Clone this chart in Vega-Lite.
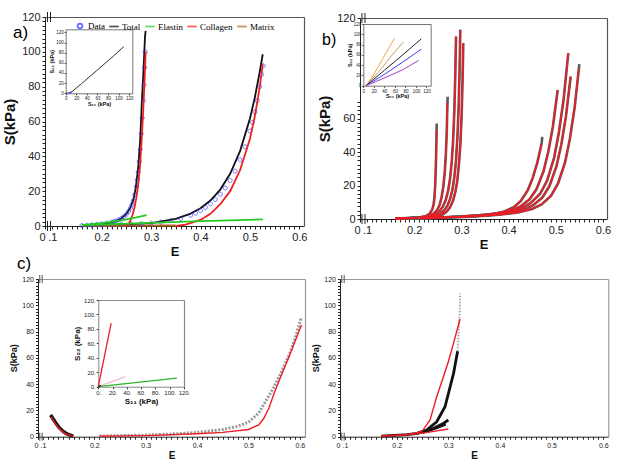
{
"$schema":"https://vega.github.io/schema/vega-lite/v6.json",
"width":621,"height":470,"autosize":{"type":"none"},"padding":0,"background":"white",
"config":{"view":{"stroke":null},"axis":{"grid":false,"labelFont":"Liberation Sans","titleFont":"Liberation Sans","domainColor":"#222","tickColor":"#222","labelColor":"#222","titleColor":"#111","labelOverlap":false,"labelFlush":false,"labelPadding":2}},
"datasets":{
"aLines":[
{"s":"Total","g":"L","E":0.16,"S":0.3},{"s":"Total","g":"L","E":0.18,"S":0.6},{"s":"Total","g":"L","E":0.2,"S":1.1},{"s":"Total","g":"L","E":0.22,"S":2.0},{"s":"Total","g":"L","E":0.23,"S":2.9},{"s":"Total","g":"L","E":0.24,"S":4.4},{"s":"Total","g":"L","E":0.25,"S":7.0},{"s":"Total","g":"L","E":0.258,"S":10.5},{"s":"Total","g":"L","E":0.264,"S":15},{"s":"Total","g":"L","E":0.269,"S":22},{"s":"Total","g":"L","E":0.274,"S":34},{"s":"Total","g":"L","E":0.278,"S":50},{"s":"Total","g":"L","E":0.281,"S":70},{"s":"Total","g":"L","E":0.284,"S":86},{"s":"Total","g":"L","E":0.2877,"S":109},{"s":"Total","g":"L","E":0.289,"S":112},
{"s":"Total","g":"R","E":0.16,"S":0.3},{"s":"Total","g":"R","E":0.2,"S":0.5},{"s":"Total","g":"R","E":0.25,"S":0.9},{"s":"Total","g":"R","E":0.3,"S":1.7},{"s":"Total","g":"R","E":0.35,"S":4.1},{"s":"Total","g":"R","E":0.38,"S":7.1},{"s":"Total","g":"R","E":0.4,"S":10.2},{"s":"Total","g":"R","E":0.42,"S":14.6},{"s":"Total","g":"R","E":0.44,"S":20.9},{"s":"Total","g":"R","E":0.46,"S":30},{"s":"Total","g":"R","E":0.48,"S":43},{"s":"Total","g":"R","E":0.5,"S":61.6},{"s":"Total","g":"R","E":0.51,"S":73.8},{"s":"Total","g":"R","E":0.52,"S":88.7},{"s":"Total","g":"R","E":0.526,"S":98.6},
{"s":"Collagen","g":"L","E":0.2506,"S":0},{"s":"Collagen","g":"L","E":0.254,"S":1},{"s":"Collagen","g":"L","E":0.258,"S":3},{"s":"Collagen","g":"L","E":0.262,"S":6},{"s":"Collagen","g":"L","E":0.266,"S":10},{"s":"Collagen","g":"L","E":0.27,"S":16},{"s":"Collagen","g":"L","E":0.274,"S":24},{"s":"Collagen","g":"L","E":0.278,"S":36},{"s":"Collagen","g":"L","E":0.281,"S":50},{"s":"Collagen","g":"L","E":0.284,"S":66},{"s":"Collagen","g":"L","E":0.2865,"S":82},{"s":"Collagen","g":"L","E":0.289,"S":100},
{"s":"Collagen","g":"R","E":0.35,"S":0},{"s":"Collagen","g":"R","E":0.37,"S":0.8},{"s":"Collagen","g":"R","E":0.4,"S":3.5},{"s":"Collagen","g":"R","E":0.42,"S":7},{"s":"Collagen","g":"R","E":0.44,"S":12.5},{"s":"Collagen","g":"R","E":0.46,"S":20},{"s":"Collagen","g":"R","E":0.48,"S":32},{"s":"Collagen","g":"R","E":0.5,"S":50},{"s":"Collagen","g":"R","E":0.51,"S":63},{"s":"Collagen","g":"R","E":0.52,"S":80},{"s":"Collagen","g":"R","E":0.526,"S":93},
{"s":"Elastin","g":"L","E":0.16,"S":0.5},{"s":"Elastin","g":"L","E":0.2,"S":1.6},{"s":"Elastin","g":"L","E":0.24,"S":3.2},{"s":"Elastin","g":"L","E":0.27,"S":4.9},{"s":"Elastin","g":"L","E":0.291,"S":6.3},
{"s":"Elastin","g":"R","E":0.16,"S":0.5},{"s":"Elastin","g":"R","E":0.3,"S":1.8},{"s":"Elastin","g":"R","E":0.4,"S":2.8},{"s":"Elastin","g":"R","E":0.526,"S":3.8},
{"s":"Matrix","g":"L","E":0.16,"S":0.2},{"s":"Matrix","g":"L","E":0.25,"S":0.3},
{"s":"Matrix","g":"R","E":0.16,"S":0.2},{"s":"Matrix","g":"R","E":0.35,"S":0.3}
],
"aData":[
{"s":"Data","E":0.16,"S":0.3},{"s":"Data","E":0.17,"S":0.45},{"s":"Data","E":0.18,"S":0.6},{"s":"Data","E":0.19,"S":0.85},{"s":"Data","E":0.2,"S":1.2},{"s":"Data","E":0.21,"S":1.6},{"s":"Data","E":0.22,"S":2.2},{"s":"Data","E":0.225,"S":2.6},{"s":"Data","E":0.23,"S":3.0},{"s":"Data","E":0.235,"S":3.6},{"s":"Data","E":0.24,"S":4.4},{"s":"Data","E":0.245,"S":5.5},{"s":"Data","E":0.25,"S":6.8},{"s":"Data","E":0.254,"S":8.3},{"s":"Data","E":0.258,"S":10.3},{"s":"Data","E":0.261,"S":12.2},{"s":"Data","E":0.264,"S":14.6},{"s":"Data","E":0.267,"S":18},{"s":"Data","E":0.27,"S":22.5},{"s":"Data","E":0.272,"S":26.5},{"s":"Data","E":0.274,"S":31},{"s":"Data","E":0.276,"S":37},{"s":"Data","E":0.278,"S":44},{"s":"Data","E":0.28,"S":53},{"s":"Data","E":0.282,"S":62},{"s":"Data","E":0.284,"S":72},{"s":"Data","E":0.2855,"S":81},{"s":"Data","E":0.287,"S":91},{"s":"Data","E":0.288,"S":100},
{"s":"Data","E":0.18,"S":0.4},{"s":"Data","E":0.2,"S":0.5},{"s":"Data","E":0.22,"S":0.6},{"s":"Data","E":0.24,"S":0.8},{"s":"Data","E":0.26,"S":1.0},{"s":"Data","E":0.28,"S":1.2},{"s":"Data","E":0.3,"S":1.6},{"s":"Data","E":0.32,"S":2.2},{"s":"Data","E":0.34,"S":3.1},{"s":"Data","E":0.36,"S":4.3},{"s":"Data","E":0.38,"S":6.2},{"s":"Data","E":0.39,"S":7.4},{"s":"Data","E":0.4,"S":8.9},{"s":"Data","E":0.41,"S":10.6},{"s":"Data","E":0.42,"S":12.7},{"s":"Data","E":0.43,"S":15.2},{"s":"Data","E":0.44,"S":18.2},{"s":"Data","E":0.45,"S":21.8},{"s":"Data","E":0.46,"S":26.2},{"s":"Data","E":0.47,"S":31.5},{"s":"Data","E":0.48,"S":38},{"s":"Data","E":0.49,"S":45.5},{"s":"Data","E":0.5,"S":54.5},{"s":"Data","E":0.505,"S":59.5},{"s":"Data","E":0.51,"S":65.5},{"s":"Data","E":0.515,"S":72},{"s":"Data","E":0.52,"S":80},{"s":"Data","E":0.524,"S":87},{"s":"Data","E":0.527,"S":92}
],
"aIn":[
{"s":"t","x":8,"y":0},{"s":"t","x":30,"y":19},{"s":"t","x":60,"y":46},{"s":"t","x":90,"y":73},{"s":"t","x":110,"y":92},
{"s":"b","x":0,"y":0},{"s":"b","x":6,"y":1},{"s":"b","x":12,"y":3},
{"s":"m","x":0,"y":0},{"s":"m","x":1,"y":3},{"s":"m","x":2,"y":6}
],
"b":[
{"g":"L1","E":0.16,"S":0.3},{"g":"L1","E":0.19,"S":0.5},{"g":"L1","E":0.21,"S":0.9},{"g":"L1","E":0.225,"S":1.8},{"g":"L1","E":0.233,"S":3.3},{"g":"L1","E":0.238,"S":5.5},{"g":"L1","E":0.241,"S":8.5},{"g":"L1","E":0.243,"S":13},{"g":"L1","E":0.2445,"S":20},{"g":"L1","E":0.2455,"S":28},{"g":"L1","E":0.2465,"S":38},{"g":"L1","E":0.2475,"S":53},{"g":"L1","E":0.2477,"S":57,"t":1},
{"g":"L2","E":0.16,"S":0.3},{"g":"L2","E":0.19,"S":0.5},{"g":"L2","E":0.215,"S":0.9},{"g":"L2","E":0.232,"S":1.8},{"g":"L2","E":0.242,"S":3.3},{"g":"L2","E":0.249,"S":5.5},{"g":"L2","E":0.254,"S":8.5},{"g":"L2","E":0.258,"S":13},{"g":"L2","E":0.2615,"S":19},{"g":"L2","E":0.2645,"S":27},{"g":"L2","E":0.267,"S":38},{"g":"L2","E":0.269,"S":52},{"g":"L2","E":0.2705,"S":70},{"g":"L2","E":0.271,"S":73,"t":1},
{"g":"L3","E":0.16,"S":0.3},{"g":"L3","E":0.185,"S":0.5},{"g":"L3","E":0.21,"S":0.8},{"g":"L3","E":0.232,"S":1.5},{"g":"L3","E":0.245,"S":2.8},{"g":"L3","E":0.254,"S":4.8},{"g":"L3","E":0.261,"S":7.5},{"g":"L3","E":0.267,"S":11.5},{"g":"L3","E":0.272,"S":17},{"g":"L3","E":0.276,"S":24},{"g":"L3","E":0.2795,"S":34},{"g":"L3","E":0.2825,"S":47},{"g":"L3","E":0.285,"S":64},{"g":"L3","E":0.287,"S":85},{"g":"L3","E":0.2886,"S":109},
{"g":"L4","E":0.16,"S":0.3},{"g":"L4","E":0.19,"S":0.45},{"g":"L4","E":0.22,"S":0.8},{"g":"L4","E":0.2411,"S":1.6},{"g":"L4","E":0.2541,"S":2.9},{"g":"L4","E":0.2631,"S":5},{"g":"L4","E":0.2701,"S":7.8},{"g":"L4","E":0.2761,"S":12},{"g":"L4","E":0.2811,"S":17.6},{"g":"L4","E":0.2851,"S":25},{"g":"L4","E":0.2886,"S":35},{"g":"L4","E":0.2916,"S":49},{"g":"L4","E":0.2941,"S":66},{"g":"L4","E":0.2961,"S":88},{"g":"L4","E":0.2977,"S":113},
{"g":"L5","E":0.16,"S":0.3},{"g":"L5","E":0.19,"S":0.45},{"g":"L5","E":0.225,"S":0.8},{"g":"L5","E":0.2474,"S":1.5},{"g":"L5","E":0.2604,"S":2.7},{"g":"L5","E":0.2694,"S":4.6},{"g":"L5","E":0.2764,"S":7.2},{"g":"L5","E":0.2824,"S":11},{"g":"L5","E":0.2874,"S":16.4},{"g":"L5","E":0.2914,"S":23},{"g":"L5","E":0.2949,"S":33},{"g":"L5","E":0.2979,"S":45},{"g":"L5","E":0.3004,"S":61},{"g":"L5","E":0.3024,"S":82},{"g":"L5","E":0.304,"S":105},
{"g":"R1","E":0.16,"S":0.3},{"g":"R1","E":0.2,"S":0.5},{"g":"R1","E":0.25,"S":0.8},{"g":"R1","E":0.301,"S":1.3},{"g":"R1","E":0.341,"S":2.0},{"g":"R1","E":0.371,"S":3.1},{"g":"R1","E":0.391,"S":4.5},{"g":"R1","E":0.411,"S":7.1},{"g":"R1","E":0.426,"S":10.8},{"g":"R1","E":0.441,"S":17.4},{"g":"R1","E":0.451,"S":24.4},{"g":"R1","E":0.461,"S":33.8},{"g":"R1","E":0.47,"S":45},{"g":"R1","E":0.4714,"S":49,"t":1},
{"g":"R2","E":0.16,"S":0.3},{"g":"R2","E":0.22,"S":0.6},{"g":"R2","E":0.28,"S":1.2},{"g":"R2","E":0.334,"S":2.1},{"g":"R2","E":0.374,"S":3.2},{"g":"R2","E":0.404,"S":5.0},{"g":"R2","E":0.424,"S":7.3},{"g":"R2","E":0.444,"S":11.6},{"g":"R2","E":0.459,"S":17.7},{"g":"R2","E":0.474,"S":28.5},{"g":"R2","E":0.484,"S":40},{"g":"R2","E":0.494,"S":55.4},{"g":"R2","E":0.504,"S":77},
{"g":"R3","E":0.16,"S":0.3},{"g":"R3","E":0.23,"S":0.7},{"g":"R3","E":0.3,"S":1.5},{"g":"R3","E":0.3565,"S":2.7},{"g":"R3","E":0.3965,"S":4.2},{"g":"R3","E":0.4265,"S":6.4},{"g":"R3","E":0.4465,"S":9.4},{"g":"R3","E":0.4665,"S":14.9},{"g":"R3","E":0.4815,"S":22.8},{"g":"R3","E":0.4965,"S":36.6},{"g":"R3","E":0.5065,"S":51.5},{"g":"R3","E":0.5165,"S":71.3},{"g":"R3","E":0.5265,"S":99},
{"g":"R4","E":0.16,"S":0.3},{"g":"R4","E":0.23,"S":0.6},{"g":"R4","E":0.3,"S":1.3},{"g":"R4","E":0.3615,"S":2.3},{"g":"R4","E":0.4015,"S":3.6},{"g":"R4","E":0.4315,"S":5.5},{"g":"R4","E":0.4515,"S":8.1},{"g":"R4","E":0.4715,"S":12.8},{"g":"R4","E":0.4865,"S":19.6},{"g":"R4","E":0.5015,"S":31.5},{"g":"R4","E":0.5115,"S":44.2},{"g":"R4","E":0.5215,"S":61.2},{"g":"R4","E":0.5315,"S":85},
{"g":"R5","E":0.16,"S":0.3},{"g":"R5","E":0.24,"S":0.6},{"g":"R5","E":0.32,"S":1.4},{"g":"R5","E":0.3798,"S":2.5},{"g":"R5","E":0.4198,"S":3.9},{"g":"R5","E":0.4498,"S":6.0},{"g":"R5","E":0.4698,"S":8.7},{"g":"R5","E":0.4898,"S":13.8},{"g":"R5","E":0.5048,"S":21.2},{"g":"R5","E":0.5198,"S":34},{"g":"R5","E":0.5298,"S":47.8},{"g":"R5","E":0.5398,"S":66.2},{"g":"R5","E":0.549,"S":90},{"g":"R5","E":0.5498,"S":92.5,"t":1}
],
"bIn":[
{"c":"o","x":5,"y":0},{"c":"o","x":20,"y":22},{"c":"o","x":40,"y":58},{"c":"o","x":59,"y":92},
{"c":"n","x":5,"y":0},{"c":"n","x":30,"y":28},{"c":"n","x":55,"y":60},{"c":"n","x":76,"y":85},
{"c":"k","x":5,"y":0},{"c":"k","x":40,"y":30},{"c":"k","x":75,"y":60},{"c":"k","x":110,"y":91},
{"c":"b","x":5,"y":0},{"c":"b","x":40,"y":22},{"c":"b","x":75,"y":46},{"c":"b","x":110,"y":71},
{"c":"p","x":5,"y":0},{"c":"p","x":40,"y":15},{"c":"p","x":75,"y":31},{"c":"p","x":105,"y":49}
],
"c":[
{"k":"dL","E":0.115,"S":16.5},{"k":"dL","E":0.119,"S":14},{"k":"dL","E":0.1235,"S":11.4},{"k":"dL","E":0.128,"S":8.8},{"k":"dL","E":0.133,"S":6.4},{"k":"dL","E":0.139,"S":4.2},{"k":"dL","E":0.145,"S":2.5},{"k":"dL","E":0.15,"S":1.6},{"k":"dL","E":0.155,"S":1},{"k":"dL","E":0.159,"S":0.5},
{"k":"fL","E":0.116,"S":15},{"k":"fL","E":0.12,"S":12.5},{"k":"fL","E":0.125,"S":9.5},{"k":"fL","E":0.13,"S":7},{"k":"fL","E":0.135,"S":5},{"k":"fL","E":0.14,"S":3.3},{"k":"fL","E":0.145,"S":2.2},{"k":"fL","E":0.15,"S":1.3},{"k":"fL","E":0.155,"S":0.8},{"k":"fL","E":0.16,"S":0.5},
{"k":"dR","E":0.21,"S":0.5},{"k":"dR","E":0.25,"S":0.8},{"k":"dR","E":0.3,"S":1.2},{"k":"dR","E":0.35,"S":2},{"k":"dR","E":0.4,"S":3.2},{"k":"dR","E":0.45,"S":5.5},{"k":"dR","E":0.48,"S":8},{"k":"dR","E":0.5,"S":11},{"k":"dR","E":0.52,"S":18},{"k":"dR","E":0.535,"S":28},{"k":"dR","E":0.55,"S":38},{"k":"dR","E":0.565,"S":50},{"k":"dR","E":0.58,"S":63},{"k":"dR","E":0.59,"S":74},{"k":"dR","E":0.6,"S":87},{"k":"dR","E":0.603,"S":91},
{"k":"fR","E":0.21,"S":0.3},{"k":"fR","E":0.3,"S":0.8},{"k":"fR","E":0.4,"S":2.2},{"k":"fR","E":0.45,"S":3.3},{"k":"fR","E":0.5,"S":5.5},{"k":"fR","E":0.52,"S":9},{"k":"fR","E":0.53,"S":14},{"k":"fR","E":0.54,"S":22},{"k":"fR","E":0.55,"S":33},{"k":"fR","E":0.56,"S":43},{"k":"fR","E":0.58,"S":62},{"k":"fR","E":0.6,"S":82},{"k":"fR","E":0.603,"S":85}
],
"cIn":[
{"c":"p","x":0,"y":0},{"c":"p","x":38,"y":14},
{"c":"g","x":0,"y":0},{"c":"g","x":110,"y":12},
{"c":"r","x":0,"y":0},{"c":"r","x":18,"y":88},
{"c":"k","x":0,"y":0},{"c":"k","x":4,"y":1.5}
],
"d":[
{"k":"f","g":"m","E":0.17,"S":0.5},{"k":"f","g":"m","E":0.2,"S":1},{"k":"f","g":"m","E":0.22,"S":1.6},{"k":"f","g":"m","E":0.24,"S":3},{"k":"f","g":"m","E":0.25,"S":4.5},{"k":"f","g":"m","E":0.2646,"S":12.7},{"k":"f","g":"m","E":0.2775,"S":30.4},{"k":"f","g":"m","E":0.29,"S":45},{"k":"f","g":"m","E":0.3,"S":57},{"k":"f","g":"m","E":0.31,"S":71},{"k":"f","g":"m","E":0.3227,"S":89.6},
{"k":"f","g":"s","E":0.17,"S":0.5},{"k":"f","g":"s","E":0.22,"S":1.5},{"k":"f","g":"s","E":0.26,"S":3.3},{"k":"f","g":"s","E":0.3,"S":5.9},
{"k":"d","g":"m","E":0.17,"S":0.5},{"k":"d","g":"m","E":0.22,"S":1.5},{"k":"d","g":"m","E":0.24,"S":2.5},{"k":"d","g":"m","E":0.258,"S":5},{"k":"d","g":"m","E":0.2775,"S":11.4},{"k":"d","g":"m","E":0.2936,"S":22.8},{"k":"d","g":"m","E":0.31,"S":48},{"k":"d","g":"m","E":0.318,"S":65},
{"k":"d","g":"a","E":0.24,"S":2.5},{"k":"d","g":"a","E":0.27,"S":6},{"k":"d","g":"a","E":0.29,"S":10},{"k":"d","g":"a","E":0.3,"S":12.7},
{"k":"d","g":"b","E":0.25,"S":3},{"k":"d","g":"b","E":0.275,"S":6.5},{"k":"d","g":"b","E":0.295,"S":9.5},
{"k":"tip","g":"t","E":0.318,"S":65},{"k":"tip","g":"t","E":0.32,"S":80},{"k":"tip","g":"t","E":0.322,"S":95},{"k":"tip","g":"t","E":0.323,"S":109}
]
},
"resolve":{"scale":{"x":"independent","y":"independent","color":"independent","shape":"independent"}},
"layer":[
{"data":{"name":"aLines"},"transform":[{"filter":"datum.s === 'Total' || datum.s === 'Matrix'"}],"mark":{"type":"line","strokeWidth":1.8},
 "encoding":{
 "x":{"field":"E","type":"quantitative","scale":{"domain":[0.0852,0.6095],"range":[45,304],"nice":false,"zero":false},
  "axis":{"orient":"bottom","offset":-244,"values":[0.0852,0.1,0.11,0.12,0.13,0.14,0.15,0.16,0.17,0.18,0.19,0.2,0.21,0.22,0.23,0.24,0.25,0.26,0.27,0.28,0.29,0.3,0.31,0.32,0.33,0.34,0.35,0.36,0.37,0.38,0.39,0.4,0.41,0.42,0.43,0.44,0.45,0.46,0.47,0.48,0.49,0.5,0.51,0.52,0.53,0.54,0.55,0.56,0.57,0.58,0.59,0.6],
  "labelExpr":"datum.value < 0.095 ? '0' : (abs(datum.value*10 - round(datum.value*10)) < 0.01 ? (datum.value < 0.15 ? '.1' : format(datum.value, '.1f')) : '')",
  "labelAlign":{"condition":{"test":"datum.value < 0.095","value":"right"},"value":"center"},
  "tickSize":3,"labelFontSize":11,"title":"E","titleFontSize":13,"titleFontWeight":"bold","titlePadding":3}},
 "y":{"field":"S","type":"quantitative","scale":{"domain":[0,120],"range":[226,17],"nice":false,"zero":false},
  "axis":{"orient":"left","offset":-45,"values":[0,2.5,5,7.5,10,12.5,15,17.5,20,22.5,25,27.5,30,32.5,35,37.5,40,42.5,45,47.5,50,52.5,55,57.5,60,62.5,65,67.5,70,72.5,75,77.5,80,82.5,85,87.5,90,92.5,95,97.5,100,102.5,105,107.5,110,112.5,115,117.5,120],
  "labelExpr":"datum.value % 20 === 0 ? datum.label : ''","tickSize":3,"labelFontSize":11,"title":"S(kPa)","titleFontSize":15,"titleFontWeight":"bold","titlePadding":4}},
 "color":{"field":"s","type":"nominal","scale":{"domain":["Data","Total","Elastin","Collagen","Matrix"],"range":["#3030ff","#111111","#22cc22","#ee2020","#b8651a"]},"legend":null},
 "detail":{"field":"g"}}},
{"data":{"name":"aData"},"mark":{"type":"point","filled":false,"strokeWidth":1,"size":64},
 "encoding":{
 "x":{"field":"E","type":"quantitative","scale":{"domain":[0.0852,0.6095],"range":[45,304],"nice":false,"zero":false},
  "axis":{"orient":"top","offset":-17,"ticks":false,"labels":false,"title":null,"domainColor":"#555","domainWidth":1.2}},
 "y":{"field":"S","type":"quantitative","scale":{"domain":[0,120],"range":[226,17],"nice":false,"zero":false},
  "axis":{"orient":"right","offset":-317,"ticks":false,"labels":false,"title":null,"domainColor":"#555","domainWidth":1.2}},
 "color":{"field":"s","type":"nominal","scale":{"domain":["Data","Total","Elastin","Collagen","Matrix"],"range":["#3030ff","#111111","#22cc22","#ee2020","#b8651a"]},
  "legend":{"orient":"none","legendX":74,"legendY":20,"direction":"horizontal","columns":5,"title":null,"labelFont":"Liberation Serif","labelFontSize":9,"symbolSize":90,"symbolStrokeWidth":1.8,"columnPadding":0,"labelOffset":2}},
 "shape":{"field":"s","type":"nominal","scale":{"domain":["Data","Total","Elastin","Collagen","Matrix"],"range":["M0.5,0A0.5,0.5,0,1,1,-0.5,0A0.5,0.5,0,1,1,0.5,0Z","stroke","stroke","stroke","stroke"]},
  "legend":{"orient":"none","legendX":74,"legendY":20,"direction":"horizontal","columns":5,"title":null,"labelFont":"Liberation Serif","labelFontSize":9,"symbolSize":90,"symbolStrokeWidth":1.8,"columnPadding":0,"labelOffset":2}}}},
{"data":{"name":"aLines"},"transform":[{"filter":"datum.s === 'Collagen' || datum.s === 'Elastin'"}],"mark":{"type":"line","strokeWidth":1.8},
 "encoding":{
 "x":{"field":"E","type":"quantitative","scale":{"domain":[0.0852,0.6095],"range":[45,304],"nice":false,"zero":false},"axis":null},
 "y":{"field":"S","type":"quantitative","scale":{"domain":[0,120],"range":[226,17],"nice":false,"zero":false},"axis":null},
 "color":{"field":"s","type":"nominal","scale":{"domain":["Data","Total","Elastin","Collagen","Matrix"],"range":["#3030ff","#111111","#22cc22","#ee2020","#b8651a"]},"legend":null},
 "detail":{"field":"g"}}},
{"data":{"values":[{}]},"mark":{"type":"text","fontSize":17,"align":"left","baseline":"middle","font":"Liberation Sans"},
 "encoding":{
 "x":{"datum":0.0204,"type":"quantitative","scale":{"domain":[0.0852,0.6095],"range":[45,304],"nice":false,"zero":false},"axis":null},
 "y":{"datum":110.8,"type":"quantitative","scale":{"domain":[0,120],"range":[226,17],"nice":false,"zero":false},"axis":null},
 "text":{"value":"a)"}}},
{"data":{"values":[{}]},"mark":{"type":"point","shape":"M-0.3,-1L-0.3,1M0.3,-1L0.3,1","filled":false,"stroke":"#222","strokeWidth":1,"size":100,"opacity":1},
 "encoding":{
 "x":{"datum":0.0933,"type":"quantitative","scale":{"domain":[0.0852,0.6095],"range":[45,304],"nice":false,"zero":false},"axis":null},
 "y":{"datum":0,"type":"quantitative","scale":{"domain":[0,120],"range":[226,17],"nice":false,"zero":false},"axis":null}}},
{"data":{"values":[{}]},"mark":{"type":"point","shape":"M-0.3,-1L-0.3,1M0.3,-1L0.3,1","filled":false,"stroke":"#222","strokeWidth":1,"size":100,"opacity":1},
 "encoding":{
 "x":{"datum":0.0933,"type":"quantitative","scale":{"domain":[0.0852,0.6095],"range":[45,304],"nice":false,"zero":false},"axis":null},
 "y":{"datum":120,"type":"quantitative","scale":{"domain":[0,120],"range":[226,17],"nice":false,"zero":false},"axis":null}}},

{"data":{"name":"aIn"},"mark":{"type":"line","strokeWidth":1},
 "encoding":{
 "x":{"field":"x","type":"quantitative","scale":{"domain":[0,126],"range":[65.7,132.3],"nice":false,"zero":false},
  "axis":{"orient":"bottom","offset":-376.7,"values":[0,20,40,60,80,100,120],"labelFontSize":4.5,"tickSize":1.5,"labelPadding":1,"title":"S₁₁ (kPa)","titleFontSize":5.5,"titleFontWeight":"bold","titlePadding":1,"domainColor":"#777"}},
 "y":{"field":"y","type":"quantitative","scale":{"domain":[0,126],"range":[93.3,29.3],"nice":false,"zero":false},
  "axis":{"orient":"left","offset":-65.7,"values":[0,20,40,60,80,100,120],"labelFontSize":4.5,"tickSize":1.5,"labelPadding":1,"title":"S₂₂ (kPa)","titleFontSize":5.5,"titleFontWeight":"bold","titlePadding":1,"domainColor":"#777"}},
 "color":{"field":"s","type":"nominal","scale":{"domain":["t","b","m"],"range":["#333333","#3030ff","#d4a017"]},"legend":null},
 "detail":{"field":"s"}}},
{"data":{"name":"aIn"},"mark":{"type":"line","opacity":0},
 "encoding":{
 "x":{"field":"x","type":"quantitative","scale":{"domain":[0,126],"range":[65.7,132.3],"nice":false,"zero":false},
  "axis":{"orient":"top","offset":-29.3,"ticks":false,"labels":false,"title":null,"domainColor":"#777"}},
 "y":{"field":"y","type":"quantitative","scale":{"domain":[0,126],"range":[93.3,29.3],"nice":false,"zero":false},
  "axis":{"orient":"right","offset":-488.7,"ticks":false,"labels":false,"title":null,"domainColor":"#777"}},
 "detail":{"field":"s"}}},

{"data":{"name":"b"},"mark":{"type":"line","strokeWidth":2.6,"color":"#5a5a5a"},
 "encoding":{
 "x":{"field":"E","type":"quantitative","scale":{"domain":[0.0852,0.6085],"range":[360,607],"nice":false,"zero":false},
  "axis":{"orient":"bottom","offset":-251,"values":[0.0852,0.1,0.11,0.12,0.13,0.14,0.15,0.16,0.17,0.18,0.19,0.2,0.21,0.22,0.23,0.24,0.25,0.26,0.27,0.28,0.29,0.3,0.31,0.32,0.33,0.34,0.35,0.36,0.37,0.38,0.39,0.4,0.41,0.42,0.43,0.44,0.45,0.46,0.47,0.48,0.49,0.5,0.51,0.52,0.53,0.54,0.55,0.56,0.57,0.58,0.59,0.6],
  "labelExpr":"datum.value < 0.095 ? '0' : (abs(datum.value*10 - round(datum.value*10)) < 0.01 ? (datum.value < 0.15 ? '.1' : format(datum.value, '.1f')) : '')",
  "labelAlign":{"condition":{"test":"datum.value < 0.095","value":"right"},"value":"center"},
  "tickSize":3,"labelFontSize":11,"title":"E","titleFontSize":13,"titleFontWeight":"bold","titlePadding":3}},
 "y":{"field":"S","type":"quantitative","scale":{"domain":[0,120],"range":[219,18],"nice":false,"zero":false},
  "axis":{"orient":"left","offset":-360,"values":[0,2.5,5,7.5,10,12.5,15,17.5,20,22.5,25,27.5,30,32.5,35,37.5,40,42.5,45,47.5,50,52.5,55,57.5,60,62.5,65,67.5,70,120],
  "labelExpr":"datum.value % 20 === 0 ? datum.label : ''","tickSize":3,"labelFontSize":11,"title":"S(kPa)","titleFontSize":15,"titleFontWeight":"bold","titlePadding":4}},
 "detail":{"field":"g"}}},
{"data":{"name":"b"},"transform":[{"filter":"datum.t !== 1"}],"mark":{"type":"line","strokeWidth":1.6,"color":"#ee1c24"},
 "encoding":{
 "x":{"field":"E","type":"quantitative","scale":{"domain":[0.0852,0.6085],"range":[360,607],"nice":false,"zero":false},
  "axis":{"orient":"top","offset":-18,"ticks":false,"labels":false,"title":null,"domainColor":"#555","domainWidth":1.2}},
 "y":{"field":"S","type":"quantitative","scale":{"domain":[0,120],"range":[219,18],"nice":false,"zero":false},
  "axis":{"orient":"right","offset":-14,"ticks":false,"labels":false,"title":null,"domainColor":"#555","domainWidth":1.2}},
 "detail":{"field":"g"}}},
{"data":{"values":[{}]},"mark":{"type":"text","fontSize":16,"align":"left","baseline":"middle","font":"Liberation Sans"},
 "encoding":{
 "x":{"datum":0.0047,"type":"quantitative","scale":{"domain":[0.0852,0.6085],"range":[360,607],"nice":false,"zero":false},"axis":null},
 "y":{"datum":106.9,"type":"quantitative","scale":{"domain":[0,120],"range":[219,18],"nice":false,"zero":false},"axis":null},
 "text":{"value":"b)"}}},
{"data":{"values":[{}]},"mark":{"type":"point","shape":"M-0.3,-1L-0.3,1M0.3,-1L0.3,1","filled":false,"stroke":"#222","strokeWidth":1,"size":100,"opacity":1},
 "encoding":{
 "x":{"datum":0.0926,"type":"quantitative","scale":{"domain":[0.0852,0.6085],"range":[360,607],"nice":false,"zero":false},"axis":null},
 "y":{"datum":0,"type":"quantitative","scale":{"domain":[0,120],"range":[219,18],"nice":false,"zero":false},"axis":null}}},
{"data":{"values":[{}]},"mark":{"type":"point","shape":"M-0.3,-1L-0.3,1M0.3,-1L0.3,1","filled":false,"stroke":"#222","strokeWidth":1,"size":100,"opacity":1},
 "encoding":{
 "x":{"datum":0.0926,"type":"quantitative","scale":{"domain":[0.0852,0.6085],"range":[360,607],"nice":false,"zero":false},"axis":null},
 "y":{"datum":120,"type":"quantitative","scale":{"domain":[0,120],"range":[219,18],"nice":false,"zero":false},"axis":null}}},

{"data":{"name":"bIn"},"mark":{"type":"line","strokeWidth":1},
 "encoding":{
 "x":{"field":"x","type":"quantitative","scale":{"domain":[0,128],"range":[363.3,430.7],"nice":false,"zero":false},
  "axis":{"orient":"bottom","offset":-384.3,"values":[0,20,40,60,80,100,120],"labelFontSize":4.5,"tickSize":1.5,"labelPadding":1,"title":"S₁₁ (kPa)","titleFontSize":5.5,"titleFontWeight":"bold","titlePadding":1,"domainColor":"#777"}},
 "y":{"field":"y","type":"quantitative","scale":{"domain":[0,120],"range":[85.7,24],"nice":false,"zero":false},
  "axis":{"orient":"left","offset":-363.3,"values":[0,20,40,60,80,100,120],"labelFontSize":4.5,"tickSize":1.5,"labelPadding":1,"title":"S₂₂ (kPa)","titleFontSize":5.5,"titleFontWeight":"bold","titlePadding":1,"domainColor":"#777"}},
 "color":{"field":"c","type":"nominal","scale":{"domain":["o","n","k","b","p"],"range":["#f5a742","#c89a6a","#222222","#3d3df0","#a040c8"]},"legend":null},
 "detail":{"field":"c"}}},
{"data":{"name":"bIn"},"mark":{"type":"line","opacity":0},
 "encoding":{
 "x":{"field":"x","type":"quantitative","scale":{"domain":[0,128],"range":[363.3,430.7],"nice":false,"zero":false},
  "axis":{"orient":"top","offset":-24,"ticks":false,"labels":false,"title":null,"domainColor":"#777"}},
 "y":{"field":"y","type":"quantitative","scale":{"domain":[0,120],"range":[85.7,24],"nice":false,"zero":false},
  "axis":{"orient":"right","offset":-190.3,"ticks":false,"labels":false,"title":null,"domainColor":"#777"}},
 "detail":{"field":"c"}}},

{"data":{"name":"c"},"transform":[{"filter":"datum.k === 'dL'"}],"mark":{"type":"line","strokeWidth":3.5,"color":"#111"},
 "encoding":{
 "x":{"field":"E","type":"quantitative","scale":{"domain":[0.0905,0.61],"range":[38,305],"nice":false,"zero":false},
  "axis":{"orient":"bottom","offset":-33.3,"values":[0.0905,0.1,0.11,0.12,0.13,0.14,0.15,0.16,0.17,0.18,0.19,0.2,0.21,0.22,0.23,0.24,0.25,0.26,0.27,0.28,0.29,0.3,0.31,0.32,0.33,0.34,0.35,0.36,0.37,0.38,0.39,0.4,0.41,0.42,0.43,0.44,0.45,0.46,0.47,0.48,0.49,0.5,0.51,0.52,0.53,0.54,0.55,0.56,0.57,0.58,0.59,0.6],
  "labelExpr":"datum.value < 0.095 ? '0' : (abs(datum.value*10 - round(datum.value*10)) < 0.01 ? (datum.value < 0.15 ? '.1' : format(datum.value, '.1f')) : '')",
  "labelAlign":{"condition":{"test":"datum.value < 0.095","value":"right"},"value":"center"},
  "tickSize":2.5,"labelFontSize":7,"title":"E","titleFontSize":10,"titleFontWeight":"bold","titlePadding":2}},
 "y":{"field":"S","type":"quantitative","scale":{"domain":[0,120],"range":[436.7,279],"nice":false,"zero":false},
  "axis":{"orient":"left","offset":-38,"values":[0,2.5,5,7.5,10,12.5,15,17.5,20,22.5,25,27.5,30,32.5,35,37.5,40,42.5,45,47.5,50,52.5,55,57.5,60,62.5,65,67.5,70,72.5,75,77.5,80,82.5,85,87.5,90,92.5,95,97.5,100,102.5,105,107.5,110,112.5,115,117.5,120],
  "labelExpr":"datum.value % 20 === 0 ? datum.label : ''","tickSize":2.5,"labelFontSize":7,"title":"S(kPa)","titleFontSize":9,"titleFontWeight":"bold","titlePadding":3}}}},
{"data":{"name":"c"},"transform":[{"filter":"datum.k === 'dR'"}],"mark":{"type":"line","strokeWidth":3,"color":"#999","strokeDash":[2,1.5]},
 "encoding":{
 "x":{"field":"E","type":"quantitative","scale":{"domain":[0.0905,0.61],"range":[38,305],"nice":false,"zero":false},
  "axis":{"orient":"top","offset":-279,"ticks":false,"labels":false,"title":null,"domainColor":"#999","domainWidth":1.2}},
 "y":{"field":"S","type":"quantitative","scale":{"domain":[0,120],"range":[436.7,279],"nice":false,"zero":false},
  "axis":{"orient":"right","offset":-316,"ticks":false,"labels":false,"title":null,"domainColor":"#999","domainWidth":1.2}}}},
{"data":{"name":"c"},"transform":[{"filter":"datum.k === 'fL' || datum.k === 'fR'"}],"mark":{"type":"line","strokeWidth":1.4,"color":"#ee1c24"},
 "encoding":{
 "x":{"field":"E","type":"quantitative","scale":{"domain":[0.0905,0.61],"range":[38,305],"nice":false,"zero":false},"axis":null},
 "y":{"field":"S","type":"quantitative","scale":{"domain":[0,120],"range":[436.7,279],"nice":false,"zero":false},"axis":null},
 "detail":{"field":"k"}}},
{"data":{"values":[{}]},"mark":{"type":"text","fontSize":17,"align":"left","baseline":"middle","font":"Liberation Sans"},
 "encoding":{
 "x":{"datum":0.0496,"type":"quantitative","scale":{"domain":[0.0905,0.61],"range":[38,305],"nice":false,"zero":false},"axis":null},
 "y":{"datum":131.4,"type":"quantitative","scale":{"domain":[0,120],"range":[436.7,279],"nice":false,"zero":false},"axis":null},
 "text":{"value":"c)"}}},
{"data":{"values":[{}]},"mark":{"type":"point","shape":"M-0.3,-1L-0.3,1M0.3,-1L0.3,1","filled":false,"stroke":"#555","strokeWidth":1,"size":64,"opacity":1},
 "encoding":{
 "x":{"datum":0.0963,"type":"quantitative","scale":{"domain":[0.0905,0.61],"range":[38,305],"nice":false,"zero":false},"axis":null},
 "y":{"datum":0,"type":"quantitative","scale":{"domain":[0,120],"range":[436.7,279],"nice":false,"zero":false},"axis":null}}},
{"data":{"values":[{}]},"mark":{"type":"point","shape":"M-0.3,-1L-0.3,1M0.3,-1L0.3,1","filled":false,"stroke":"#555","strokeWidth":1,"size":64,"opacity":1},
 "encoding":{
 "x":{"datum":0.0963,"type":"quantitative","scale":{"domain":[0.0905,0.61],"range":[38,305],"nice":false,"zero":false},"axis":null},
 "y":{"datum":120,"type":"quantitative","scale":{"domain":[0,120],"range":[436.7,279],"nice":false,"zero":false},"axis":null}}},

{"data":{"name":"cIn"},"mark":{"type":"line","strokeWidth":1.3},
 "encoding":{
 "x":{"field":"x","type":"quantitative","scale":{"domain":[0,120],"range":[98.3,184],"nice":false,"zero":false},
  "axis":{"orient":"bottom","offset":-83.3,"values":[0,20,40,60,80,100,120],"labelExpr":"datum.label + '.'","labelFontSize":6,"tickSize":2,"labelPadding":1,"title":"S₁₁ (kPa)","titleFontSize":8,"titleFontWeight":"bold","titlePadding":2,"domainColor":"#888"}},
 "y":{"field":"y","type":"quantitative","scale":{"domain":[0,120],"range":[386.7,300],"nice":false,"zero":false},
  "axis":{"orient":"left","offset":-98.3,"values":[0,20,40,60,80,100,120],"labelExpr":"datum.label + '.'","labelFontSize":6,"tickSize":2,"labelPadding":1,"title":"S₂₂ (kPa)","titleFontSize":8,"titleFontWeight":"bold","titlePadding":2,"domainColor":"#888"}},
 "color":{"field":"c","type":"nominal","scale":{"domain":["r","g","p","k"],"range":["#e8202a","#2ab52a","#f2b8d8","#222222"]},"legend":null},
 "detail":{"field":"c"}}},
{"data":{"name":"cIn"},"mark":{"type":"line","opacity":0},
 "encoding":{
 "x":{"field":"x","type":"quantitative","scale":{"domain":[0,120],"range":[98.3,184],"nice":false,"zero":false},
  "axis":{"orient":"top","offset":-300,"ticks":false,"labels":false,"title":null,"domainColor":"#888","domainWidth":1.2}},
 "y":{"field":"y","type":"quantitative","scale":{"domain":[0,120],"range":[386.7,300],"nice":false,"zero":false},
  "axis":{"orient":"right","offset":-437,"ticks":false,"labels":false,"title":null,"domainColor":"#888","domainWidth":1.2}},
 "detail":{"field":"c"}}},

{"data":{"name":"d"},"transform":[{"filter":"datum.k === 'tip'"}],"mark":{"type":"line","strokeWidth":2,"color":"#aaa","strokeDash":[1.5,1.5]},
 "encoding":{
 "x":{"field":"E","type":"quantitative","scale":{"domain":[0.0903,0.6097],"range":[340,608.3],"nice":false,"zero":false},"axis":null},
 "y":{"field":"S","type":"quantitative","scale":{"domain":[0,120],"range":[436.7,279],"nice":false,"zero":false},"axis":null}}},
{"data":{"name":"d"},"transform":[{"filter":"datum.k === 'd'"}],"mark":{"type":"line","strokeWidth":2.8,"color":"#111"},
 "encoding":{
 "x":{"field":"E","type":"quantitative","scale":{"domain":[0.0903,0.6097],"range":[340,608.3],"nice":false,"zero":false},
  "axis":{"orient":"bottom","offset":-33.3,"values":[0.0903,0.1,0.11,0.12,0.13,0.14,0.15,0.16,0.17,0.18,0.19,0.2,0.21,0.22,0.23,0.24,0.25,0.26,0.27,0.28,0.29,0.3,0.31,0.32,0.33,0.34,0.35,0.36,0.37,0.38,0.39,0.4,0.41,0.42,0.43,0.44,0.45,0.46,0.47,0.48,0.49,0.5,0.51,0.52,0.53,0.54,0.55,0.56,0.57,0.58,0.59,0.6],
  "labelExpr":"datum.value < 0.095 ? '0' : (abs(datum.value*10 - round(datum.value*10)) < 0.01 ? (datum.value < 0.15 ? '.1' : format(datum.value, '.1f')) : '')",
  "labelAlign":{"condition":{"test":"datum.value < 0.095","value":"right"},"value":"center"},
  "tickSize":2.5,"labelFontSize":7,"title":"E","titleFontSize":10,"titleFontWeight":"bold","titlePadding":2}},
 "y":{"field":"S","type":"quantitative","scale":{"domain":[0,120],"range":[436.7,279],"nice":false,"zero":false},
  "axis":{"orient":"left","offset":-340,"values":[0,2.5,5,7.5,10,12.5,15,17.5,20,22.5,25,27.5,30,32.5,35,37.5,40,42.5,45,47.5,50,52.5,55,57.5,60,62.5,65,67.5,70,72.5,75,77.5,80,82.5,85,87.5,90,92.5,95,97.5,100,102.5,105,107.5,110,112.5,115,117.5,120],
  "labelExpr":"datum.value % 20 === 0 ? datum.label : ''","tickSize":2.5,"labelFontSize":7,"title":"S(kPa)","titleFontSize":9,"titleFontWeight":"bold","titlePadding":3}},
 "detail":{"field":"g"}}},
{"data":{"name":"d"},"transform":[{"filter":"datum.k === 'f'"}],"mark":{"type":"line","strokeWidth":1.4,"color":"#ee1c24"},
 "encoding":{
 "x":{"field":"E","type":"quantitative","scale":{"domain":[0.0903,0.6097],"range":[340,608.3],"nice":false,"zero":false},
  "axis":{"orient":"top","offset":-279,"ticks":false,"labels":false,"title":null,"domainColor":"#999","domainWidth":1.2}},
 "y":{"field":"S","type":"quantitative","scale":{"domain":[0,120],"range":[436.7,279],"nice":false,"zero":false},
  "axis":{"orient":"right","offset":-12.7,"ticks":false,"labels":false,"title":null,"domainColor":"#999","domainWidth":1.2}},
 "detail":{"field":"g"}}},
{"data":{"values":[{}]},"mark":{"type":"point","shape":"M-0.3,-1L-0.3,1M0.3,-1L0.3,1","filled":false,"stroke":"#555","strokeWidth":1,"size":64,"opacity":1},
 "encoding":{
 "x":{"datum":0.0961,"type":"quantitative","scale":{"domain":[0.0903,0.6097],"range":[340,608.3],"nice":false,"zero":false},"axis":null},
 "y":{"datum":0,"type":"quantitative","scale":{"domain":[0,120],"range":[436.7,279],"nice":false,"zero":false},"axis":null}}},
{"data":{"values":[{}]},"mark":{"type":"point","shape":"M-0.3,-1L-0.3,1M0.3,-1L0.3,1","filled":false,"stroke":"#555","strokeWidth":1,"size":64,"opacity":1},
 "encoding":{
 "x":{"datum":0.0961,"type":"quantitative","scale":{"domain":[0.0903,0.6097],"range":[340,608.3],"nice":false,"zero":false},"axis":null},
 "y":{"datum":120,"type":"quantitative","scale":{"domain":[0,120],"range":[436.7,279],"nice":false,"zero":false},"axis":null}}}
]
}
